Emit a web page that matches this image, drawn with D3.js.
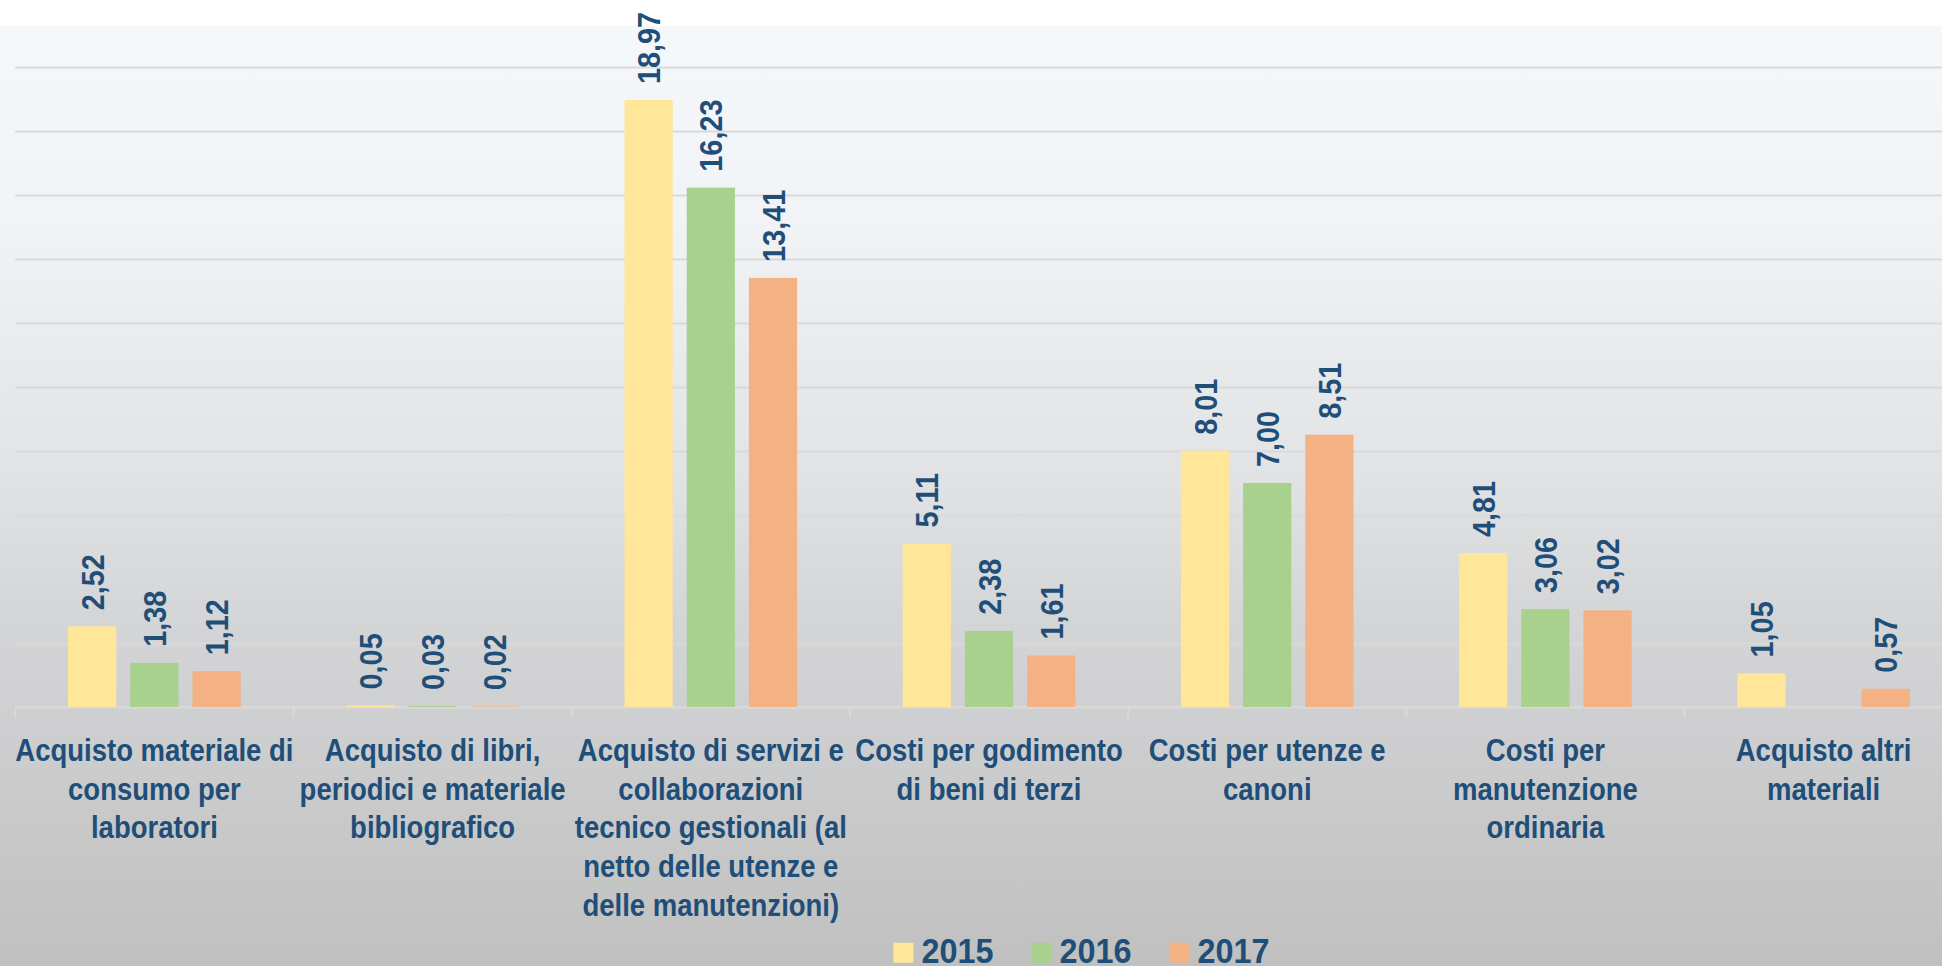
<!DOCTYPE html>
<html>
<head>
<meta charset="utf-8">
<script src="https://cdn.jsdelivr.net/npm/d3@7"></script>
<style>
  html, body { margin: 0; padding: 0; background: #ffffff; }
  svg { display: block; }
  .lbl { font-family: "Liberation Sans", Arial, sans-serif; font-weight: bold; fill: #1f4e79; }
</style>
</head>
<body>
<div id="BarChart"></div>
<script>
const width = 1942;
const height = 966;

// data
const categories = [
  "Acquisto materiale di consumo per laboratori",
  "Acquisto di libri, periodici e materiale bibliografico",
  "Acquisto di servizi e collaborazioni tecnico gestionali (al netto delle utenze e delle manutenzioni)",
  "Costi per godimento di beni di terzi",
  "Costi per utenze e canoni",
  "Costi per manutenzione ordinaria",
  "Acquisto altri materiali"
];
// line breaks as they appear under the axis
const categoryLines = [
  ["Acquisto materiale di", "consumo per", "laboratori"],
  ["Acquisto di libri,", "periodici e materiale", "bibliografico"],
  ["Acquisto di servizi e", "collaborazioni", "tecnico gestionali (al", "netto delle utenze e", "delle manutenzioni)"],
  ["Costi per godimento", "di beni di terzi"],
  ["Costi per utenze e", "canoni"],
  ["Costi per", "manutenzione", "ordinaria"],
  ["Acquisto altri", "materiali"]
];
const years = ["2015", "2016", "2017"];
const values2015 = [2.52, 0.05, 18.97, 5.11, 8.01, 4.81, 1.05];
const values2016 = [1.38, 0.03, 16.23, 2.38, 7.00, 3.06, null];
const values2017 = [1.12, 0.02, 13.41, 1.61, 8.51, 3.02, 0.57];
const yTicks = [0, 2, 4, 6, 8, 10, 12, 14, 16, 18, 20];
const colors = ["#ffe699", "#a9d18e", "#f4b183"];

const series = [values2015, values2016, values2017];
const barData = [];
categories.forEach((c, i) => {
  years.forEach((yr, j) => {
    if (series[j][i] != null) barData.push({cat: c, year: yr, value: series[j][i]});
  });
});

const itFormat = d3.formatLocale({decimal: ",", thousands: ".", grouping: [3], currency: ["", " €"]}).format(".2f");

// no narrow font installed -> squeeze a regular bold one horizontally
const catSquash = 0.86;
const valSquash = 0.9;

const svg = d3
  .select("#BarChart")
  .append("svg")
  .attr("width", width)
  .attr("height", height);

// background gradient
const grad = svg.append("defs").append("linearGradient")
  .attr("id", "bgGrad")
  .attr("x1", 0).attr("y1", 0).attr("x2", 0).attr("y2", 1);
[[0, "#f5f8fb"], [0.2, "#f1f3f6"], [0.47, "#e2e3e5"], [0.63, "#d4d5d7"], [1, "#c0c0c0"]]
  .forEach(s => grad.append("stop").attr("offset", s[0]).attr("stop-color", s[1]));

svg.append("rect")
  .attr("x", 0).attr("y", 26)
  .attr("width", width).attr("height", height - 26)
  .style("fill", "url(#bgGrad)");

// scales
const xScale = d3.scaleBand()
  .domain(categories)
  .range([15.3, 15.3 + 7 * 278.2]);

const xInner = d3.scaleBand()
  .domain(years)
  .range([52.8, 52.8 + 172.6])
  .paddingInner(0.225);

const yScale = d3.scaleLinear()
  .domain([0, 20])
  .range([707, 67]);

// grid
svg.append("g")
  .attr("class", "grid")
  .attr("transform", `translate(15.3,0)`)
  .call(d3.axisLeft(yScale).tickValues(yTicks).tickSize(-(width - 15.3)).tickFormat(""))
  .call(g => g.select(".domain").remove())
  .call(g => g.selectAll(".tick line").attr("stroke", "#d9d9d9").attr("stroke-width", 2));

// x axis with tick marks between categories
const xAxis = svg.append("g")
  .attr("transform", `translate(0,${yScale(0)})`);
xAxis.append("line")
  .attr("x1", xScale.range()[0]).attr("x2", width)
  .attr("stroke", "#d9d9d9").attr("stroke-width", 2);
xAxis.selectAll(".sep")
  .data(categories)
  .join("line")
  .attr("class", "sep")
  .attr("x1", d => xScale(d)).attr("x2", d => xScale(d))
  .attr("y1", 0).attr("y2", 11)
  .attr("stroke", "#d9d9d9").attr("stroke-width", 2);

// bars
svg.selectAll(".bar")
  .data(barData)
  .join("rect")
  .attr("class", "bar")
  .attr("x", d => xScale(d.cat) + xInner(d.year))
  .attr("y", d => yScale(d.value))
  .attr("width", xInner.bandwidth())
  .attr("height", d => yScale(0) - yScale(d.value))
  .style("fill", d => colors[years.indexOf(d.year)]);

// value labels (rotated)
svg.selectAll(".val")
  .data(barData)
  .join("text")
  .attr("class", "lbl val")
  .attr("transform", d => `translate(${xScale(d.cat) + xInner(d.year) + xInner.bandwidth() / 2},${yScale(d.value) - 16}) rotate(-90) scale(${valSquash},1)`)
  .attr("dy", "0.36em")
  .style("font-size", "32px")
  .text(d => itFormat(d.value));

// category labels
const catG = svg.selectAll(".cat")
  .data(categories)
  .join("g")
  .attr("class", "cat")
  .attr("transform", d => `translate(${xScale(d) + xScale.bandwidth() / 2},0) scale(${catSquash},1)`);
catG.append("text")
  .attr("class", "lbl")
  .attr("text-anchor", "middle")
  .style("font-size", "32px")
  .selectAll("tspan")
  .data((d, i) => categoryLines[i])
  .join("tspan")
  .attr("x", 0)
  .attr("y", (d, i) => 761 + i * 38.7)
  .text(d => d);

// legend
const legend = svg.append("g");
let lx = 0;
years.forEach((yr, j) => {
  legend.append("rect")
    .attr("x", lx).attr("y", 942.7)
    .attr("width", 20).attr("height", 20)
    .style("fill", colors[j]);
  const t = legend.append("text")
    .attr("class", "lbl")
    .attr("transform", `translate(${lx + 28},963) scale(${valSquash},1)`)
    .style("font-size", "36px")
    .text(yr);
  lx += 28 + t.node().getComputedTextLength() * valSquash + 38;
});
const lw = lx - 38;
legend.attr("transform", `translate(${1081.5 - lw / 2},0)`);
</script>
</body>
</html>
